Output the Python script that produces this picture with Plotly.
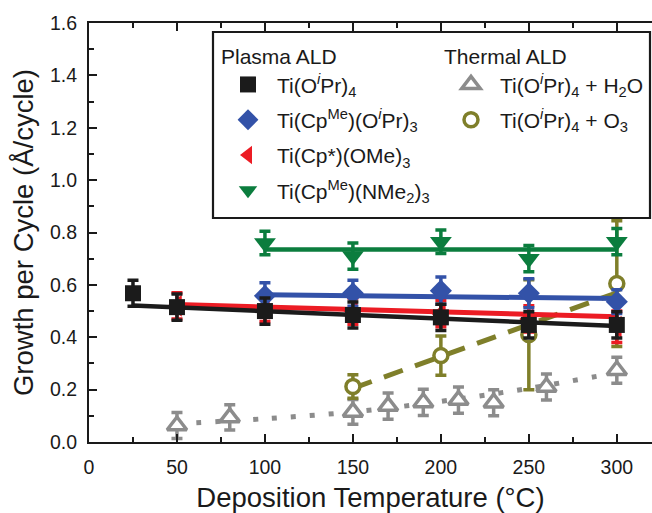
import plotly.graph_objects as go

FONT = "Liberation Sans, Arial, Helvetica, sans-serif"

# ---------------- data ----------------
# Plasma ALD
T_tip = [25, 50, 100, 150, 200, 250, 300]
gpc_tip = [0.568, 0.515, 0.500, 0.485, 0.476, 0.447, 0.447]
err_tip = [0.05, 0.05, 0.05, 0.05, 0.05, 0.05, 0.05]
fitT_tip = [25, 300]
fit_tip = [0.521, 0.443]

T_cpme_oipr = [100, 150, 200, 250, 300]
gpc_cpme_oipr = [0.558, 0.568, 0.578, 0.568, 0.536]
err_cpme_oipr = [0.05, 0.05, 0.052, 0.055, 0.045]
fitT_cpme_oipr = [100, 300]
fit_cpme_oipr = [0.562, 0.548]

T_cpstar = [50, 100, 150, 200, 250, 300]
gpc_cpstar = [0.52, 0.51, 0.50, 0.49, 0.47, 0.44]
err_cpstar = [0.05, 0.05, 0.05, 0.05, 0.05, 0.06]
fitT_cpstar = [50, 300]
fit_cpstar = [0.525, 0.478]

T_cpme_nme2 = [100, 150, 200, 250, 300]
gpc_cpme_nme2 = [0.76, 0.71, 0.765, 0.70, 0.765]
err_cpme_nme2 = [0.045, 0.05, 0.045, 0.05, 0.05]
fitT_cpme_nme2 = [100, 300]
fit_cpme_nme2 = [0.735, 0.735]

# Thermal ALD
T_h2o = [50, 80, 150, 170, 190, 210, 230, 260, 300]
gpc_h2o = [0.063, 0.094, 0.115, 0.137, 0.151, 0.160, 0.150, 0.21, 0.274]
err_h2o = [0.05, 0.048, 0.047, 0.05, 0.05, 0.05, 0.05, 0.05, 0.05]
fitT_h2o = [50, 100, 150, 200, 250, 300]
fit_h2o = [0.07, 0.089, 0.115, 0.155, 0.205, 0.265]

T_o3 = [150, 200, 250, 300]
gpc_o3 = [0.212, 0.33, 0.41, 0.605]
err_o3 = [0.045, 0.075, 0.21, 0.24]
fitT_o3 = [150, 300]
fit_o3 = [0.205, 0.57]

names = {
    "tip": "Ti(O<sup><i>i</i></sup>Pr)<sub>4</sub>",
    "cpme_oipr": "Ti(Cp<sup>Me</sup>)(O<sup><i>i</i></sup>Pr)<sub>3</sub>",
    "cpstar": "Ti(Cp*)(OMe)<sub>3</sub>",
    "cpme_nme2": "Ti(Cp<sup>Me</sup>)(NMe<sub>2</sub>)<sub>3</sub>",
    "h2o": "Ti(O<sup><i>i</i></sup>Pr)<sub>4</sub> + H<sub>2</sub>O",
    "o3": "Ti(O<sup><i>i</i></sup>Pr)<sub>4</sub> + O<sub>3</sub>",
}

BLACK = "#1b1b1b"
BLUE = "#3352a8"
RED = "#ec1c24"
GREEN = "#0b7d3e"
GRAY = "#8c8c8c"
OLIVE = "#7f7f2a"

fig = go.Figure()


def fit_line(x, y, color, width, dash="solid", shape="linear"):
    fig.add_trace(go.Scatter(x=x, y=y, mode="lines", showlegend=False,
                             hoverinfo="skip",
                             line=dict(color=color, width=width, dash=dash, shape=shape)))


def points(x, y, e, name, color, symbol, size, legend, rank, open_=False):
    if open_:
        marker = dict(symbol=symbol, size=size, color="white",
                      line=dict(color=color, width=3.5))
    else:
        marker = dict(symbol=symbol, size=size, color=color, line=dict(width=0))
    fig.add_trace(go.Scatter(x=x, y=y, mode="markers", name=name, legend=legend,
                             legendrank=rank, legendgroup=name,
                             marker=marker,
                             error_y=dict(type="data", array=e, color=color,
                                          thickness=3.5, width=5.5)))


# thermal first (under)
fit_line(fitT_h2o, fit_h2o, GRAY, 5, dash="5px,14px", shape="spline")
points(T_h2o, gpc_h2o, err_h2o, names["h2o"], GRAY, "triangle-up", 17, "legend2", 1, open_=True)
fit_line(fitT_o3, fit_o3, OLIVE, 5, dash="20px,13px")
points(T_o3, gpc_o3, err_o3, names["o3"], OLIVE, "circle", 14, "legend2", 2, open_=True)

# plasma
fit_line(fitT_cpstar, fit_cpstar, RED, 5)
points(T_cpstar, gpc_cpstar, err_cpstar, names["cpstar"], RED, "triangle-left", 19, "legend", 3)
fit_line(fitT_cpme_oipr, fit_cpme_oipr, BLUE, 5)
points(T_cpme_oipr, gpc_cpme_oipr, err_cpme_oipr, names["cpme_oipr"], BLUE, "diamond", 17, "legend", 2)
fit_line(fitT_cpme_nme2, fit_cpme_nme2, GREEN, 4.5)
points(T_cpme_nme2, gpc_cpme_nme2, err_cpme_nme2, names["cpme_nme2"], GREEN, "triangle-down", 19, "legend", 4)
fit_line(fitT_tip, fit_tip, BLACK, 4.5)
points(T_tip, gpc_tip, err_tip, names["tip"], BLACK, "square", 16, "legend", 1)

# plot area: x 89..652 px, y 23..442 px
W, H = 652, 513
L, T, B = 89, 23, 442


def px(xp):
    return (xp - L) / (W - L)


def py(yp):
    return (B - yp) / (B - T)


fig.add_shape(type="rect", xref="paper", yref="paper",
              x0=px(213), x1=px(650), y0=py(218), y1=py(32),
              line=dict(color="#1a1a1a", width=2.2), fillcolor="white", layer="below")

axis_common = dict(showline=True, linecolor="#1a1a1a", linewidth=2.2,
                   ticks="inside", tickcolor="#1a1a1a", tickwidth=2, ticklen=8,
                   showgrid=False, zeroline=False,
                   tickfont=dict(family=FONT, size=19.5, color="#1a1a1a"),
                   title_font=dict(family=FONT, size=27.5, color="#1a1a1a"))

LEG_FONT = dict(family=FONT, size=21, color="#1a1a1a")

fig.update_layout(
    width=W, height=H,
    margin=dict(l=L, r=0, t=T, b=H - B, autoexpand=False),
    paper_bgcolor="white", plot_bgcolor="white",
    font=dict(family=FONT, color="#1a1a1a"),
    xaxis=dict(range=[0, 320], tickvals=[0, 50, 100, 150, 200, 250, 300],
               mirror="ticks", ticklabelstandoff=6,
               minor=dict(dtick=25, tick0=0, ticks="inside", ticklen=5,
                          tickwidth=2, tickcolor="#1a1a1a"),
               title=dict(text="Deposition Temperature (°C)", standoff=15),
               **axis_common),
    yaxis=dict(range=[0, 1.6], dtick=0.2, tick0=0, tickformat=".1f",
               ticklabelstandoff=6,
               minor=dict(dtick=0.1, tick0=0, ticks="inside", ticklen=5,
                          tickwidth=2, tickcolor="#1a1a1a"),
               title=dict(text="Growth per Cycle (Å/cycle)", standoff=8),
               **axis_common),
    legend=dict(x=px(219), y=py(37), xanchor="left", yanchor="top",
                bgcolor="rgba(0,0,0,0)", borderwidth=0,
                font=LEG_FONT,
                title=dict(text="Plasma ALD", font=LEG_FONT),
                traceorder="grouped", tracegroupgap=5, itemwidth=48),
    legend2=dict(x=px(442), y=py(37), xanchor="left", yanchor="top",
                 bgcolor="rgba(0,0,0,0)", borderwidth=0,
                 font=LEG_FONT,
                 title=dict(text="Thermal ALD", font=LEG_FONT),
                 traceorder="grouped", tracegroupgap=5, itemwidth=48),
)

fig.write_html("out.html")
